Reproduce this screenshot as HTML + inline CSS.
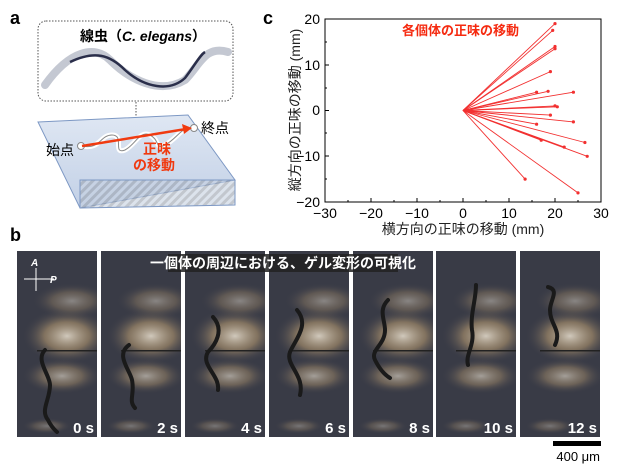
<!DOCTYPE html>
<html><head><meta charset="utf-8"><style>
body{margin:0;background:#fff;}
svg{display:block;font-family:"Liberation Sans","Noto Sans CJK JP",sans-serif;}
</style></head><body>
<svg width="620" height="476" viewBox="0 0 620 476" xmlns="http://www.w3.org/2000/svg">
<defs>
<radialGradient id="glow" cx="0.5" cy="0.5" r="0.5">
<stop offset="0" stop-color="#f4ead8" stop-opacity="0.95"/>
<stop offset="0.5" stop-color="#c8a878" stop-opacity="0.6"/>
<stop offset="1" stop-color="#3a3c48" stop-opacity="0"/>
</radialGradient>
<linearGradient id="slab" x1="0" y1="0" x2="0" y2="1">
<stop offset="0" stop-color="#dfe7f3"/><stop offset="1" stop-color="#c2d0e6"/>
</linearGradient>
<pattern id="hatch" width="6" height="6" patternUnits="userSpaceOnUse" patternTransform="rotate(45)">
<rect width="6" height="6" fill="#c5d0e0"/><rect width="3" height="6" fill="#9aa2ae"/>
</pattern>
<clipPath id="fc"><rect x="0" y="0" width="80" height="186"/></clipPath>
<g id="frame">
<rect x="0" y="0" width="80" height="186" fill="#393b46"/>
<g clip-path="url(#fc)">
<ellipse cx="50" cy="85" rx="45" ry="28" fill="url(#glow)" opacity="0.85"/>
<ellipse cx="45" cy="125" rx="40" ry="18" fill="url(#glow)" opacity="0.6"/>
<ellipse cx="55" cy="50" rx="40" ry="18" fill="url(#glow)" opacity="0.45"/>
<ellipse cx="30" cy="175" rx="25" ry="8" fill="url(#glow)" opacity="0.35"/>
<rect x="20" y="99" width="60" height="1.5" fill="#222"/>
</g>
</g>
</defs>

<!-- panel a -->
<text x="10" y="24" font-size="18" font-weight="bold">a</text>
<rect x="38" y="21" width="195" height="80" rx="8" fill="#fff" stroke="#555" stroke-dasharray="1.5,1.5"/>
<text x="80" y="41" font-size="14" font-weight="bold">線虫（<tspan font-style="italic">C. elegans</tspan>）</text>
<path d="M45 85 C70 50 95 45 110 60 C130 80 160 95 185 80 C200 65 205 45 228 52" fill="none" stroke="#c4c8d2" stroke-width="8" stroke-linecap="round"/>
<path d="M70 62 C95 50 110 55 125 70 C145 88 170 92 185 78 C195 65 200 55 205 52" fill="none" stroke="#2a2e4a" stroke-width="2.5"/>
<line x1="136" y1="102" x2="136" y2="128" stroke="#555" stroke-dasharray="1.5,1.5"/>
<polygon points="38,122 188,115 235,180 80,208" fill="url(#slab)" stroke="#7d98c4"/>
<polygon points="80,180 235,180 235,205 80,208" fill="url(#hatch)" opacity="0.6"/>
<polygon points="80,180 235,180 235,205 80,208" fill="none" stroke="#7d98c4"/>
<path d="M82 146 C100 150 100 135 112 135 C125 135 112 155 125 150 C135 145 140 130 150 135 C160 140 155 150 165 145 C175 140 180 130 188 128" fill="none" stroke="#fff" stroke-width="5"/>
<path d="M82 146 C100 150 100 135 112 135 C125 135 112 155 125 150 C135 145 140 130 150 135 C160 140 155 150 165 145 C175 140 180 130 188 128" fill="none" stroke="#888" stroke-width="1"/>
<circle cx="81" cy="146" r="3.5" fill="#fff" stroke="#888"/>
<circle cx="194" cy="128" r="3.5" fill="#fff" stroke="#888"/>
<line x1="82" y1="146" x2="186" y2="129" stroke="#f03a10" stroke-width="2.5"/>
<polygon points="192,128 182,124 184,134" fill="#f03a10"/>
<text x="46" y="155" font-size="14">始点</text>
<text x="201" y="133" font-size="14">終点</text>
<text x="143" y="154" font-size="14" fill="#f03a10" font-weight="bold">正味</text>
<text x="133" y="170" font-size="14" fill="#f03a10" font-weight="bold">の移動</text>

<!-- panel c -->
<text x="263" y="24" font-size="18" font-weight="bold">c</text>
<rect x="325" y="19" width="276" height="183" fill="none" stroke="#000" stroke-width="1"/>
<g stroke="#000" stroke-width="1">
<line x1="325" y1="202" x2="325" y2="198"/><line x1="348" y1="202" x2="348" y2="200"/>
<line x1="371" y1="202" x2="371" y2="198"/><line x1="394" y1="202" x2="394" y2="200"/>
<line x1="417" y1="202" x2="417" y2="198"/><line x1="440" y1="202" x2="440" y2="200"/>
<line x1="463" y1="202" x2="463" y2="198"/><line x1="486" y1="202" x2="486" y2="200"/>
<line x1="509" y1="202" x2="509" y2="198"/><line x1="532" y1="202" x2="532" y2="200"/>
<line x1="555" y1="202" x2="555" y2="198"/><line x1="578" y1="202" x2="578" y2="200"/>
<line x1="325" y1="42" x2="327" y2="42"/><line x1="325" y1="65" x2="329" y2="65"/>
<line x1="325" y1="88" x2="327" y2="88"/><line x1="325" y1="110.5" x2="329" y2="110.5"/>
<line x1="325" y1="133" x2="327" y2="133"/><line x1="325" y1="156" x2="329" y2="156"/>
<line x1="325" y1="179" x2="327" y2="179"/>
</g>
<g font-size="14" text-anchor="end">
<text x="320" y="24">20</text><text x="320" y="70">10</text><text x="320" y="115">0</text>
<text x="320" y="161">−10</text><text x="320" y="207">−20</text>
</g>
<g font-size="14" text-anchor="middle">
<text x="325" y="218">−30</text><text x="371" y="218">−20</text><text x="417" y="218">−10</text>
<text x="463" y="218">0</text><text x="509" y="218">10</text><text x="555" y="218">20</text><text x="601" y="218">30</text>
</g>
<text x="463" y="234" font-size="14" text-anchor="middle" fill="#222">横方向の正味の移動 (mm)</text>
<text transform="translate(300,110) rotate(-90)" font-size="14" text-anchor="middle" fill="#222">縦方向の正味の移動 (mm)</text>
<text x="402" y="35" font-size="13" fill="#f52a10" font-weight="bold">各個体の正味の移動</text>
<g stroke="#f23030" stroke-width="0.9" fill="#f23030" id="arr">
<line x1="463" y1="110.5" x2="555" y2="23.6"/>
<line x1="463" y1="110.5" x2="552.7" y2="30.4"/>
<line x1="463" y1="110.5" x2="555" y2="46.5"/>
<line x1="463" y1="110.5" x2="555" y2="48.7"/>
<line x1="463" y1="110.5" x2="550.4" y2="71.6"/>
<line x1="463" y1="110.5" x2="536.6" y2="92.2"/>
<line x1="463" y1="110.5" x2="548.1" y2="91.3"/>
<line x1="463" y1="110.5" x2="573.4" y2="92.2"/>
<line x1="463" y1="110.5" x2="555" y2="105.9"/>
<line x1="463" y1="110.5" x2="557.3" y2="106.8"/>
<line x1="463" y1="110.5" x2="550.4" y2="115.1"/>
<line x1="463" y1="110.5" x2="573.4" y2="121.9"/>
<line x1="463" y1="110.5" x2="536.6" y2="124.2"/>
<line x1="463" y1="110.5" x2="541.2" y2="140.2"/>
<line x1="463" y1="110.5" x2="543.5" y2="140.2"/>
<line x1="463" y1="110.5" x2="584.9" y2="142.5"/>
<line x1="463" y1="110.5" x2="564.2" y2="147.1"/>
<line x1="463" y1="110.5" x2="587.2" y2="156.3"/>
<line x1="463" y1="110.5" x2="525.1" y2="179.1"/>
<line x1="463" y1="110.5" x2="578" y2="192.9"/>
</g>
<g fill="#f23030">
<circle cx="555" cy="23.6" r="1.6"/><circle cx="552.7" cy="30.4" r="1.6"/><circle cx="555" cy="46.5" r="1.6"/>
<circle cx="555" cy="48.7" r="1.6"/><circle cx="550.4" cy="71.6" r="1.6"/><circle cx="536.6" cy="92.2" r="1.6"/>
<circle cx="548.1" cy="91.3" r="1.6"/><circle cx="573.4" cy="92.2" r="1.6"/><circle cx="555" cy="105.9" r="1.6"/>
<circle cx="557.3" cy="106.8" r="1.6"/><circle cx="550.4" cy="115.1" r="1.6"/><circle cx="573.4" cy="121.9" r="1.6"/>
<circle cx="536.6" cy="124.2" r="1.6"/><circle cx="541.2" cy="140.2" r="1.6"/><circle cx="584.9" cy="142.5" r="1.6"/>
<circle cx="564.2" cy="147.1" r="1.6"/><circle cx="587.2" cy="156.3" r="1.6"/><circle cx="525.1" cy="179.1" r="1.6"/>
<circle cx="578" cy="192.9" r="1.6"/>
</g>

<!-- panel b -->
<text x="10" y="241" font-size="18" font-weight="bold">b</text>
<use href="#frame" x="17" y="251"/>
<use href="#frame" x="101" y="251"/>
<use href="#frame" x="185" y="251"/>
<use href="#frame" x="269" y="251"/>
<use href="#frame" x="353" y="251"/>
<use href="#frame" x="436" y="251"/>
<use href="#frame" x="520" y="251"/>
<g fill="none" stroke="#1a1a1a" stroke-width="4" stroke-linecap="round">
<path d="M45 350 C35 360 50 375 50 385 C50 400 40 410 48 420 C52 428 55 430 57 432"/>
<path d="M129 345 C115 355 130 370 132 380 C135 395 128 400 135 408"/>
<path d="M213 317 C225 330 215 345 208 352 C200 365 220 375 218 390"/>
<path d="M297 310 C310 325 295 340 290 352 C285 365 305 375 300 395"/>
<path d="M388 300 C378 310 385 320 385 330 C385 345 370 350 375 360 C380 370 385 375 390 378"/>
<path d="M476 285 C476 300 470 315 472 330 C475 345 465 355 468 365"/>
<path d="M548 287 C560 290 550 300 550 310 C550 325 562 330 555 345"/>
</g>
<rect x="168" y="254" width="230" height="18" fill="#222" opacity="0.85"/>
<text x="283" y="268" font-size="14" font-weight="bold" fill="#fff" text-anchor="middle">一個体の周辺における、ゲル変形の可視化</text>
<g stroke="#fff" stroke-width="1" fill="#fff">
<line x1="24" y1="279" x2="54" y2="279"/><line x1="36" y1="268" x2="36" y2="291"/>
<text x="31" y="266" font-size="10" font-weight="bold" font-style="italic" stroke="none">A</text>
<text x="50" y="283" font-size="10" font-weight="bold" font-style="italic" stroke="none">P</text>
</g>
<g font-size="15" font-weight="bold" fill="#fff" text-anchor="end">
<text x="94" y="433">0 s</text><text x="178" y="433">2 s</text><text x="262" y="433">4 s</text>
<text x="346" y="433">6 s</text><text x="430" y="433">8 s</text><text x="513" y="433">10 s</text><text x="597" y="433">12 s</text>
</g>
<rect x="553" y="441" width="48" height="5" fill="#000"/>
<text x="600" y="461" font-size="13" text-anchor="end">400 μm</text>
</svg>
</body></html>
